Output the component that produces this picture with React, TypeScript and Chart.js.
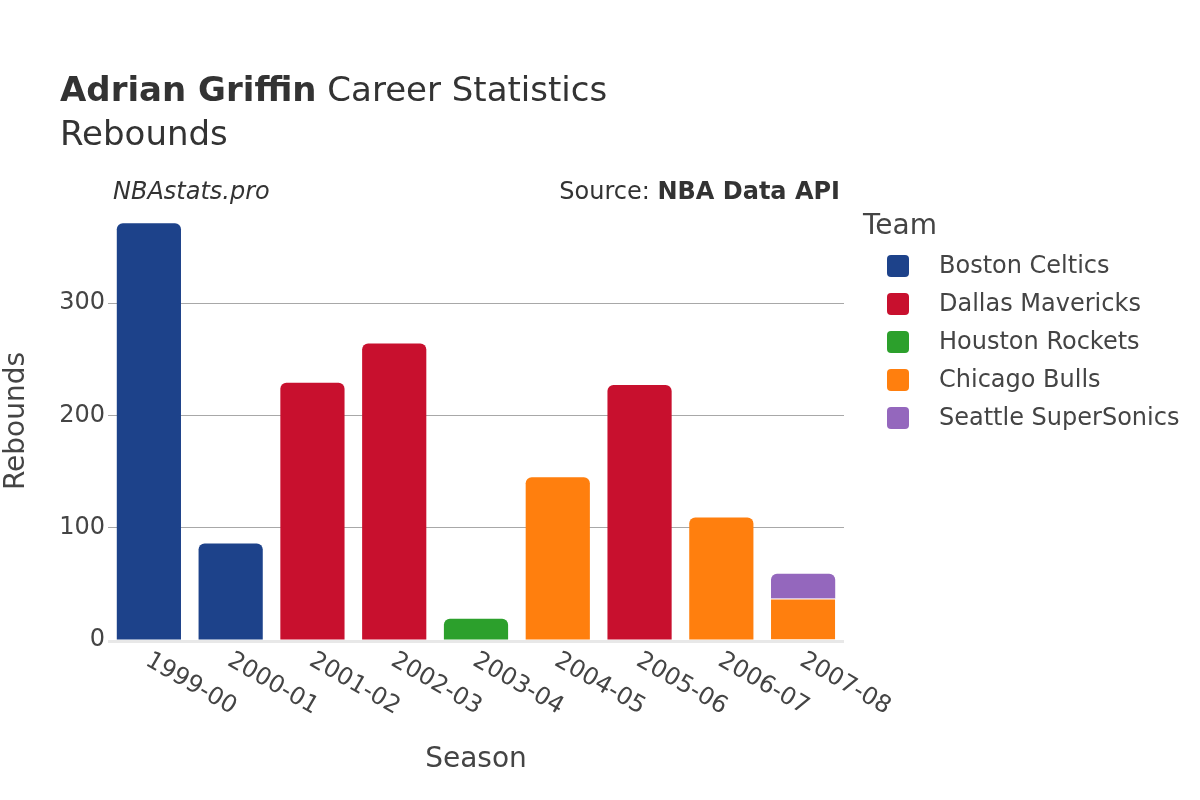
import React, { useEffect, useRef } from "react";
import { Chart, registerables } from "chart.js";

Chart.register(...registerables);

const seasons = ["1999-00", "2000-01", "2001-02", "2002-03", "2003-04", "2004-05", "2005-06", "2006-07", "2007-08"];
const teams = ["Boston Celtics", "Dallas Mavericks", "Houston Rockets", "Chicago Bulls", "Seattle SuperSonics"];
const teamColors = ["#1d428a", "#c8102e", "#2ca02c", "#ff7f0e", "#9467bd"];
const bostonValues = [371, 86, null, null, null, null, null, null, null];
const dallasValues = [null, null, 229, 264, null, null, 227, null, null];
const houstonValues = [null, null, null, null, 19, null, null, null, null];
const chicagoValues = [null, null, null, null, null, 145, null, 109, 37];
const seattleValues = [null, null, null, null, null, null, null, null, 22];
const yTicks = [0, 100, 200, 300];
const yMax = 390;

const FONT = "'DejaVu Sans', sans-serif";
const TEXT = "#444";
const TITLE = "#333";

const overlayPlugin = {
  id: "overlay",
  beforeDatasetsDraw(chart: any) {
    const { ctx, chartArea } = chart;
    ctx.save();
    ctx.fillStyle = "#e8e8e8";
    ctx.fillRect(chartArea.left, chartArea.bottom, chartArea.right - chartArea.left, 3);
    ctx.restore();
  },
  afterDraw(chart: any) {
    const { ctx, chartArea } = chart;
    const xs = chart.scales.x;
    ctx.save();
    // Title
    ctx.fillStyle = TITLE;
    ctx.textBaseline = "alphabetic";
    ctx.textAlign = "left";
    ctx.font = `bold 34px ${FONT}`;
    const bold = "Adrian Griffin";
    ctx.fillText(bold, 60, 101);
    const bw = ctx.measureText(bold).width;
    ctx.font = `34px ${FONT}`;
    ctx.fillText(" Career Statistics", 60 + bw, 101);
    ctx.fillText("Rebounds", 60, 145);

    // credits
    ctx.fillStyle = TITLE;
    ctx.font = `italic 24px ${FONT}`;
    ctx.fillText("NBAstats.pro", 113, 199);
    ctx.textAlign = "right";
    ctx.font = `bold 24px ${FONT}`;
    const src = "NBA Data API";
    ctx.fillText(src, 840, 199);
    const sw = ctx.measureText(src).width;
    ctx.font = `24px ${FONT}`;
    ctx.fillText("Source: ", 840 - sw, 199);

    // x tick labels
    ctx.fillStyle = TEXT;
    ctx.font = `24px ${FONT}`;
    ctx.textAlign = "center";
    ctx.textBaseline = "middle";
    seasons.forEach((s, i) => {
      const x = xs.getPixelForValue(i);
      ctx.save();
      ctx.translate(x + 42, 684);
      ctx.rotate(Math.PI / 6);
      ctx.fillText(s, 0, 0);
      ctx.restore();
    });

    // axis titles
    ctx.font = `28px ${FONT}`;
    ctx.fillText("Season", (chartArea.left + chartArea.right) / 2, 760);
    ctx.save();
    ctx.translate(17, (chartArea.top + chartArea.bottom) / 2);
    ctx.rotate(-Math.PI / 2);
    ctx.fillText("Rebounds", 0, 0);
    ctx.restore();

    // legend
    ctx.textAlign = "left";
    ctx.font = `28px ${FONT}`;
    ctx.fillText("Team", 863, 227);
    ctx.font = `24px ${FONT}`;
    teams.forEach((t, i) => {
      const cy = 266 + i * 38;
      ctx.fillStyle = teamColors[i];
      ctx.beginPath();
      (ctx as any).roundRect(887, cy - 11, 22, 22, 4);
      ctx.fill();
      ctx.fillStyle = TEXT;
      ctx.fillText(t, 939, cy + 1);
    });
    ctx.restore();
  },
};

export default function App() {
  const ref = useRef<HTMLCanvasElement | null>(null);
  useEffect(() => {
    if (!ref.current) return;
    const series = [bostonValues, dallasValues, houstonValues, chicagoValues, seattleValues];
    const chart = new Chart(ref.current, {
      type: "bar",
      data: {
        labels: seasons,
        datasets: teams.map((t, i) => ({
          label: t,
          data: series[i] as any,
          backgroundColor: teamColors[i],
          borderColor: "#ffffff",
          borderWidth: i === 3 ? ((c: any) => (c.dataIndex === 8 ? { top: 1, left: 0, right: 0, bottom: 0 } : 0)) as any : 0,
          borderRadius: 6,
          borderSkipped: "start",
          barPercentage: 0.785,
          categoryPercentage: 1.0,
        })),
      },
      options: {
        responsive: false,
        animation: false,
        devicePixelRatio: 1,
        layout: { padding: { left: 0, top: 202, right: 356, bottom: 0 } },
        plugins: { legend: { display: false }, tooltip: { enabled: false }, title: { display: false } },
        scales: {
          x: {
            stacked: true,
            grid: { display: false },
            border: { display: false },
            ticks: { display: false },
            afterFit: (s: any) => { s.height = 160; },
          },
          y: {
            stacked: true,
            min: 0,
            max: yMax,
            border: { display: false },
            grid: {
              drawTicks: false,
              color: (c: any) => (c.tick && c.tick.value === 0 ? "rgba(0,0,0,0)" : "#a8a8a8"),
              lineWidth: 1,
            },
            afterBuildTicks: (s: any) => {
              s.ticks = yTicks.map((v) => ({ value: v }));
            },
            ticks: {
              font: { family: FONT, size: 24 },
              color: TEXT,
              padding: 3,
            },
            afterFit: (s: any) => { s.width = 108; },
          },
        },
      },
      plugins: [overlayPlugin],
    });
    return () => chart.destroy();
  }, []);
  return (
    <div style={{ position: "absolute", left: 0, top: 0, width: 1200, height: 800, background: "#fff" }}>
      <canvas ref={ref} width={1200} height={800} style={{ width: 1200, height: 800 }} />
    </div>
  );
}
